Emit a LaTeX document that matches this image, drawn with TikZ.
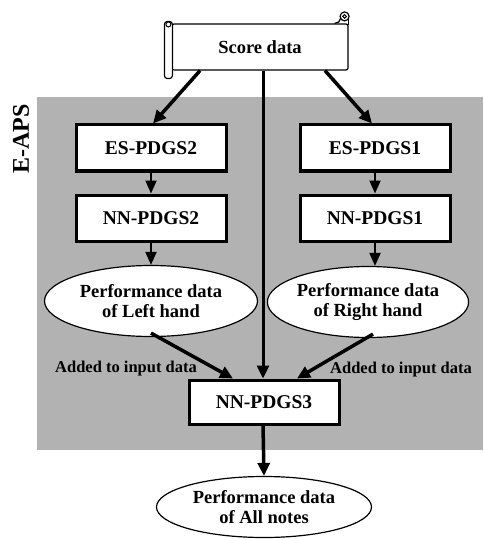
\documentclass[tikz,border=0pt]{standalone}
\usepackage{fontspec}
\setmainfont{Liberation Serif}
\usetikzlibrary{arrows.meta,shapes.geometric}
\definecolor{shadeGray}{RGB}{178,178,178}
\tikzset{
  box/.style={draw, line width=3pt, fill=white, align=center, minimum width=150pt, minimum height=46pt, inner sep=0pt, font=\fontsize{19.5}{22}\selectfont\bfseries},
  oval/.style={ellipse, draw, line width=1.2pt, fill=white, align=center, minimum width=213pt, minimum height=71pt, inner sep=0pt, font=\fontsize{18.5}{19.5}\selectfont\bfseries},
  scroll/.style={draw, line width=1.2pt, fill=white, rounded corners=2pt, minimum width=176pt, minimum height=46pt, font=\fontsize{18.5}{22}\selectfont\bfseries},
  arrow/.style={-{Triangle[length=13pt,width=12pt]}, line width=3.5pt},
  thinarrow/.style={-{Triangle[length=13pt,width=11pt]}, line width=2pt},
  note/.style={font=\fontsize{16.5}{18}\selectfont\bfseries}
}

\begin{document}
\begin{tikzpicture}[x=1pt,y=-1pt]
  \useasboundingbox (0,0) rectangle (483,540);
  % shaded E-APS area
  \fill[shadeGray] (37,97) rectangle (483,450);
  \node[rotate=90, font=\fontsize{24}{26}\selectfont\bfseries] (eaps) at (21,139) {E-APS};

  % score data scroll
  \node[scroll] (score) at (260,47) {Score data};
  \draw[line width=1.2pt, fill=white, rounded corners=3pt] ([shift={(-7,-2)}]score.north west) rectangle ([shift={(1,8)}]score.south west);
  \draw[line width=1pt] ([shift={(-3,1)}]score.north west) circle (2.5);
  \draw[line width=1.2pt] ([yshift=-2pt]score.north east) -- ++(0,-6);
  \draw[line width=1.2pt] ([xshift=-14pt]score.north east) to[out=0, in=-90] ([shift={(-8,-5)}]score.north east);
  \draw[line width=1.2pt, fill=white] ([shift={(-4,-7)}]score.north east) circle (4.5);
  \draw[line width=1pt] ([shift={(-4,-7)}]score.north east) circle (1.8);

  % left hand
  \node[box] (es2) at (151,148) {ES-PDGS2};
  \node[box] (nn2) at (151,218) {NN-PDGS2};
  \node[oval] (left) at (151,301) {Performance data\\of Left hand};

  % right hand
  \node[box] (es1) at (375,148) {ES-PDGS1};
  \node[box] (nn1) at (375,218) {NN-PDGS1};
  \node[oval, minimum width=200pt] (right) at (368,302) {Performance data\\of Right hand};

  % all notes
  \node[box, minimum height=44pt] (nn3) at (264,402) {NN-PDGS3};
  \node[oval, minimum width=215pt, minimum height=61pt] (all) at (264,507) {Performance data\\of All notes};

  \draw[arrow] ([xshift=-60pt]score.south) -- ([xshift=2pt]es2.north);
  \draw[arrow] ([xshift=65pt]score.south) -- ([xshift=-3pt]es1.north);
  \draw[arrow, line width=3pt] ([xshift=3pt]score.south) -- ([xshift=-1pt]nn3.north);
  \draw[thinarrow] (es2) -- (nn2);
  \draw[thinarrow] (nn2) -- (left);
  \draw[thinarrow] (es1) -- (nn1);
  \draw[thinarrow] (nn1) -- ([xshift=7pt]right.north);

  \node[note] (addl) at (126,369) {Added to input data};
  \node[note] (addr) at (401,370) {Added to input data};

  \draw[arrow] ([yshift=4pt]left.south) -- ([xshift=-31pt]nn3.north);
  \draw[arrow] ([shift={(5,-4)}]right.south) -- ([xshift=33pt]nn3.north);
  \draw[arrow] ([xshift=-1pt]nn3.south) -- (all.north);
\end{tikzpicture}
\end{document}
